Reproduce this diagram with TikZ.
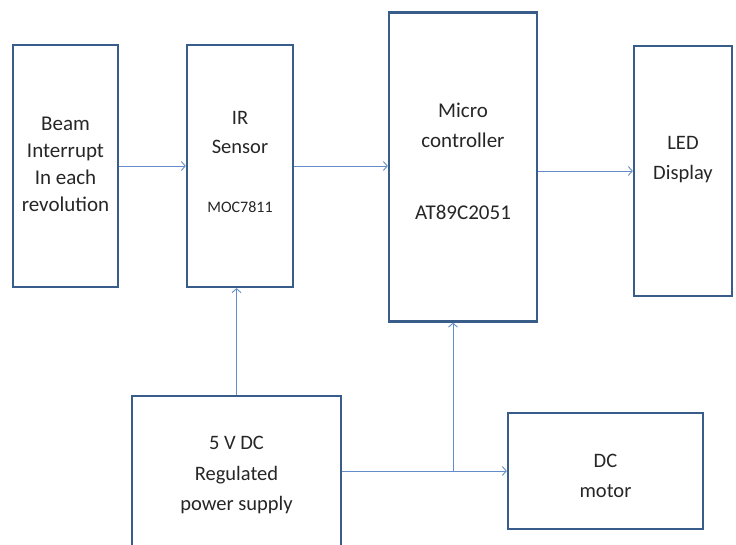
\documentclass[tikz,border=0pt]{standalone}
\usepackage{fontspec}
\setmainfont{Carlito}
\usepackage{tikz}
\usetikzlibrary{arrows.meta,calc,positioning}
\definecolor{boxblue}{RGB}{56,93,138}
\definecolor{linkblue}{RGB}{100,140,200}

\begin{document}
\begin{tikzpicture}[x=1pt,y=-1pt,font=\fontsize{21}{27}\selectfont,
>={Straight Barb[length=4pt,width=9pt]}]
\tikzset{box/.style={draw=boxblue,line width=2.2pt,inner sep=0pt},
txt/.style={align=center,inner sep=0pt,text=black!85},
link/.style={draw=linkblue,line width=0.9pt}}
\useasboundingbox (0,0) rectangle (736,545);
% blocks
\node[box,minimum width=105,minimum height=242] (beam) at (65.5,166) {};
\node[box,minimum width=106,minimum height=242] (ir) at (240,166) {};
\node[box,minimum width=148,minimum height=309] (micro) at (463,167) {};
\node[box,minimum width=98,minimum height=250] (led) at (683,171) {};
\node[box,minimum width=209,minimum height=170] (pwr) at (236.5,481) {};
\node[box,minimum width=195,minimum height=116] (motor) at (605.5,471) {};
% texts
\node[txt] (beam-t) at (beam.center) [yshift=1.5pt] {Beam\\Interrupt\\In each\\revolution};
\node[txt,font=\fontsize{20.5}{29}\selectfont] (ir-t) at (240,162) {IR\\Sensor\\[30pt]{\fontsize{16}{20}\selectfont MOC7811}};
\node[txt,font=\fontsize{21}{30}\selectfont] (micro-t) at (463,161.5) {Micro\\controller\\[42pt]AT89C2051};
\node[txt,font=\fontsize{20.5}{30}\selectfont] (led-t) at (683,160) {LED\\Display};
\node[txt,font=\fontsize{20.5}{30.5}\selectfont] (pwr-t) at (236.5,475) {5 V DC\\Regulated\\power supply};
\node[txt,font=\fontsize{20.5}{30}\selectfont] (motor-t) at (605.5,475.5) {DC\\motor};
% links
\coordinate (jn) at (453,471);
\draw[link,->] (beam.east)--(ir.west);
\draw[link,->] (ir.east)--(ir.east -| micro.west);
\draw[link,->] (micro.east |- led.west)--(led.west);
\draw[link,->] (pwr.north)--(pwr.north |- ir.south);
\draw[link,->] (pwr.east |- motor.west)--(motor.west);
\draw[link,->] (jn)--(jn |- micro.south);
\end{tikzpicture}
\end{document}
